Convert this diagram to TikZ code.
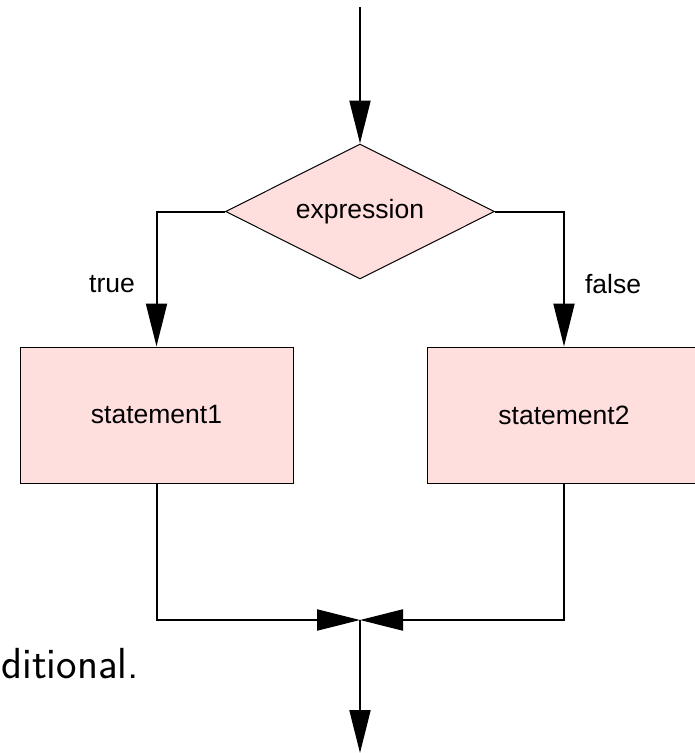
\documentclass[tikz,border=0pt]{standalone}
\usepackage{fontspec}
\usepackage{xcolor}
\usetikzlibrary{arrows.meta,calc,positioning,shapes.geometric}
\newfontfamily\flowfont{Liberation Sans}
\definecolor{flowpink}{RGB}{255,222,222}

\begin{document}
\begin{tikzpicture}[x=1pt,y=-1pt,
		box/.style={draw,line width=1pt,fill=flowpink,minimum width=273pt,minimum height=136pt,inner sep=0pt,font=\flowfont\fontsize{26.5}{30}\selectfont},
		cond/.style={draw,line width=1pt,fill=flowpink,diamond,aspect=2,minimum width=269pt,minimum height=135pt,inner sep=0pt,font=\flowfont\fontsize{26.5}{30}\selectfont},
		lbl/.style={font=\flowfont\fontsize{26.5}{30}\selectfont},
		arr/.style={line width=2pt,-{Triangle[length=43pt,width=21pt]}}]
		\useasboundingbox (0,0) rectangle (695,753);
		\coordinate (start) at (360,7);
		\node[cond] (expr) at (360,211.5) {expression};
		\node[box] (stmta) at (156.5,415) {statement1};
		\node[box] (stmtb) at (564,415) {statement2};
		\coordinate (join) at (360,620);
		\coordinate (exit) at (360,753);
		\draw[arr] (start) -- (expr.north);
		\draw[arr] (expr.west) -| (stmta.north);
		\draw[arr] (expr.east) -| (stmtb.north);
		\node[lbl] (ltrue) at (112,284) {true};
		\node[lbl] (lfalse) at (613,284) {false};
		\draw[arr] (stmta.south) |- (join);
		\draw[arr] (stmtb.south) |- (join);
		\draw[arr] (join) -- (exit);
		\node[anchor=base east,inner sep=0pt,font=\sffamily\fontsize{43.5}{50}\selectfont] (cond) at (139,678) {ditional.};
		\end{tikzpicture}
\end{document}
